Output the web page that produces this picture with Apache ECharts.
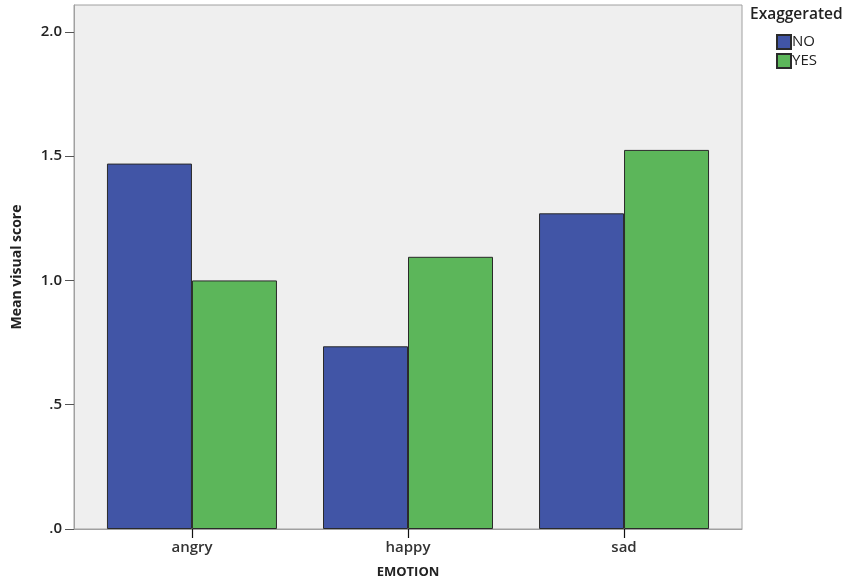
<!DOCTYPE html>
<html>
<head>
<meta charset="utf-8">
<script src="https://cdn.jsdelivr.net/npm/echarts@6/dist/echarts.min.js"></script>
<style>html,body{margin:0;padding:0;background:#fff}#c{width:853px;height:580px}</style>
</head>
<body>
<div id="c"></div>
<script>
const categories = ['angry', 'happy', 'sad'];
const seriesNames = ['NO', 'YES'];
const noValues = [1.47, 0.735, 1.27];
const yesValues = [1.00, 1.095, 1.525];
const yTickValues = [0, 0.5, 1, 1.5, 2];
const yTickLabels = ['.0', '.5', '1.0', '1.5', '2.0'];
const yMax = 2.108;

const FONT = 'Open Sans';
const catIdx = categories.map((c, i) => i);
const xPad = 0.546; // category band half-width plus outer padding
const chart = echarts.init(document.getElementById('c'), null, { renderer: 'canvas' });
chart.setOption({
  backgroundColor: '#ffffff',
  animation: false,
  textStyle: { fontFamily: FONT },
  grid: { left: 74, right: 111, top: 5, bottom: 51, show: true, backgroundColor: '#efefef', borderColor: '#a0a0a0', borderWidth: 1, outerBoundsMode: 'none', containLabel: false },
  title: {
    text: 'Exaggerated', left: 750, top: 7, padding: 0,
    textStyle: { fontFamily: FONT, fontSize: 15.5, fontWeight: 600, color: '#222' }
  },
  legend: {
    data: seriesNames, orient: 'vertical', left: 776, top: 34, padding: 0,
    itemWidth: 14, itemHeight: 14, itemGap: 3,
    textStyle: { fontFamily: FONT, fontSize: 15, color: '#222', padding: [0, 0, 0, -4] },
    icon: 'rect'
  },
  xAxis: {
    type: 'value', min: -xPad, max: categories.length - 1 + xPad,
    splitLine: { show: false },
    axisLine: { show: true, onZero: false, lineStyle: { color: '#a0a0a0' } },
    axisTick: { show: true, customValues: catIdx, length: 9, lineStyle: { color: '#111', width: 1.2 } },
    axisLabel: {
      customValues: catIdx, fontFamily: FONT, fontSize: 15, fontWeight: 600, color: '#333', margin: 11,
      formatter: v => categories[Math.round(v)] || ''
    },
    name: 'EMOTION', nameLocation: 'middle', nameGap: 37,
    nameTextStyle: { fontFamily: FONT, fontSize: 13, fontWeight: 700, color: '#222' }
  },
  yAxis: {
    type: 'value', min: 0, max: yMax, position: 'left',
    axisLine: { show: true, onZero: false, lineStyle: { color: '#a0a0a0' } },
    axisTick: { show: true, length: 9, customValues: yTickValues, lineStyle: { color: '#555' } },
    splitLine: { show: false },
    axisLabel: {
      fontFamily: FONT, fontSize: 15, fontWeight: 600, color: '#222', margin: 12,
      customValues: yTickValues,
      formatter: v => { const i = yTickValues.findIndex(t => Math.abs(t - v) < 1e-6); return i >= 0 ? yTickLabels[i] : ''; }
    },
    name: 'Mean visual score', nameLocation: 'middle', nameGap: 50, nameRotate: 90,
    nameTextStyle: { fontFamily: FONT, fontSize: 14, fontWeight: 700, color: '#222' }
  },
  series: [
    {
      name: 'NO', type: 'bar', data: noValues.map((v, i) => [i, v]),
      barGap: '0%', barWidth: 85, z: 3,
      itemStyle: { color: '#4155a6', borderColor: '#2a2a2a', borderWidth: 1 }
    },
    {
      name: 'YES', type: 'bar', data: yesValues.map((v, i) => [i, v]),
      barGap: '0%', barWidth: 85, z: 3,
      itemStyle: { color: '#5cb65a', borderColor: '#2a2a2a', borderWidth: 1 }
    }
  ]
});
</script>
</body>
</html>
